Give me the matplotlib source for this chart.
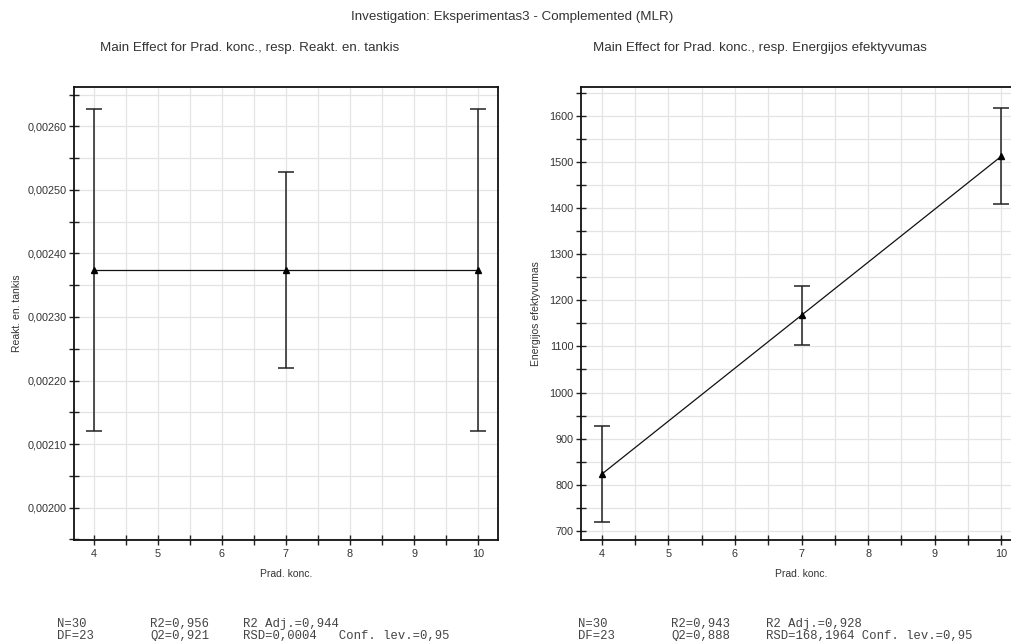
import matplotlib
matplotlib.use("Agg")
import matplotlib.pyplot as plt
from matplotlib.ticker import MultipleLocator, FuncFormatter

# Main-effect data: factor levels, predicted responses and confidence half-widths
prad_konc = [4, 7, 10]

reakt_tankis = [0.002374, 0.002374, 0.002374]
reakt_tankis_err = [0.000253, 0.000155, 0.000253]

energijos_ef = [823, 1167.5, 1512]
energijos_ef_err = [104, 64, 104]

main_title = "Investigation: Eksperimentas3 - Complemented (MLR)"
left_title = "Main Effect for Prad. konc., resp. Reakt. en. tankis"
right_title = "Main Effect for Prad. konc., resp. Energijos efektyvumas"
x_label = "Prad. konc."
left_ylabel = "Reakt. en. tankis"
right_ylabel = "Energijos efektyvumas"

left_stats = [["N=30", "R2=0,956", "R2 Adj.=0,944"],
              ["DF=23", "Q2=0,921", "RSD=0,0004   Conf. lev.=0,95"]]
right_stats = [["N=30", "R2=0,943", "R2 Adj.=0,928"],
               ["DF=23", "Q2=0,888", "RSD=168,1964 Conf. lev.=0,95"]]

plt.rcParams["font.family"] = ["Liberation Sans", "DejaVu Sans"]
TXT = "#333333"

W, H = 1011, 641
fig = plt.figure(figsize=(W / 100, H / 100), dpi=100)


def px_axes(x0, y0, x1, y1):
    return fig.add_axes([x0 / W, 1 - y1 / H, (x1 - x0) / W, (y1 - y0) / H])


def style_axes(ax, ylim, ymajor, yminor, fmt):
    ax.set_xlim(3.69, 10.31)
    ax.set_ylim(*ylim)
    ax.xaxis.set_major_locator(MultipleLocator(1))
    ax.xaxis.set_minor_locator(MultipleLocator(0.5))
    ax.yaxis.set_major_locator(MultipleLocator(ymajor))
    ax.yaxis.set_minor_locator(MultipleLocator(yminor))
    ax.yaxis.set_major_formatter(FuncFormatter(fmt))
    ax.grid(True, which="both", color="#e4e4e4", linewidth=0.9)
    ax.set_axisbelow(True)
    for s in ax.spines.values():
        s.set_linewidth(1.3)
        s.set_color("#111111")
    ax.tick_params(which="both", direction="inout", length=7, width=1,
                   color="#222222", labelsize=7.8, labelcolor=TXT, pad=2)
    ax.tick_params(axis="x", pad=3)
    ax.set_xlabel(x_label, fontsize=7.5, color=TXT, labelpad=7)


def draw_series(ax, y, err):
    ax.plot(prad_konc, y, color="#111111", linewidth=0.9, zorder=3)
    ax.errorbar(prad_konc, y, yerr=err, fmt="none", ecolor="#222222",
                elinewidth=1.1, capsize=6, capthick=1.1, zorder=3)
    ax.plot(prad_konc, y, linestyle="none", marker="^", markersize=5,
            color="#000000", zorder=4)


# Left panel
ax1 = px_axes(74, 87, 498, 540)
style_axes(ax1, (0.001949, 0.002662), 0.0001, 0.00005,
           lambda v, p: f"{v:.5f}".replace(".", ","))
draw_series(ax1, reakt_tankis, reakt_tankis_err)
ax1.set_ylabel(left_ylabel, fontsize=7.5, color=TXT, labelpad=4)

# Right panel (extends past the right edge of the canvas)
ax2 = px_axes(581, 87, 1022, 540)
style_axes(ax2, (680.5, 1662), 100, 50, lambda v, p: f"{v:.0f}")
draw_series(ax2, energijos_ef, energijos_ef_err)
ax2.set_ylabel(right_ylabel, fontsize=7.5, color=TXT, labelpad=6)

# Titles
fig.text(512 / W, 1 - 17 / H, main_title, ha="center", va="center",
         fontsize=9.6, color=TXT)
fig.text(250 / W, 1 - 48 / H, left_title, ha="center", va="center",
         fontsize=9.6, color=TXT)
fig.text(760 / W, 1 - 48 / H, right_title, ha="center", va="center",
         fontsize=9.6, color=TXT)

# Model statistics
mono = dict(family="Liberation Mono", fontsize=8.8, color="#444444",
            ha="left", va="center")
for stats, xs in ((left_stats, (57, 150, 243)), (right_stats, (578, 671, 766))):
    for row, y in zip(stats, (624, 636)):
        for txt, x in zip(row, xs):
            fig.text(x / W, 1 - y / H, txt, **mono)

fig.savefig("out.png", dpi=100)
